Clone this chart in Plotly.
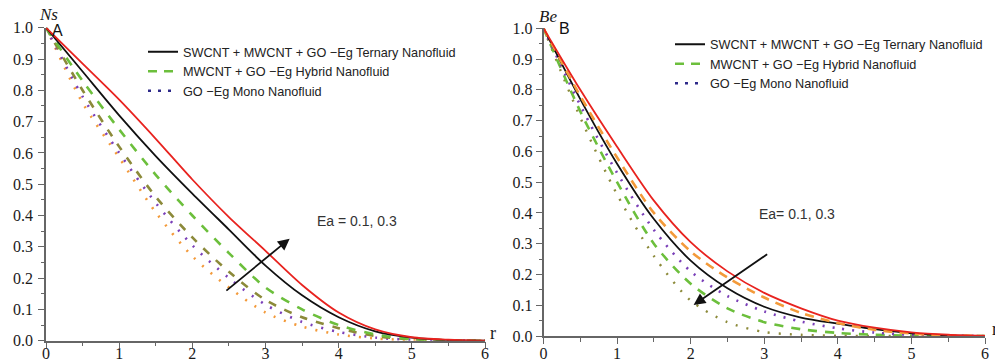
import plotly.graph_objects as go

# ---------------- data ----------------
r = [0, 0.5, 1, 1.5, 2, 2.5, 3, 3.5, 4, 4.5, 5, 5.5, 6]

# Panel A : Ns(r)
ns_ternary_hi = [1.0, 0.885, 0.77, 0.645, 0.515, 0.395, 0.287, 0.178, 0.09, 0.036, 0.011, 0.003, 0.0]
ns_ternary_lo = [1.0, 0.86, 0.72, 0.59, 0.47, 0.355, 0.24, 0.145, 0.075, 0.03, 0.01, 0.002, 0.0]
ns_hybrid_hi = [1.0, 0.83, 0.675, 0.53, 0.40, 0.28, 0.17, 0.10, 0.05, 0.02, 0.005, 0.001, 0.0]
ns_hybrid_lo = [1.0, 0.80, 0.62, 0.46, 0.33, 0.22, 0.13, 0.075, 0.04, 0.015, 0.004, 0.001, 0.0]
ns_mono_hi = [1.0, 0.78, 0.60, 0.44, 0.305, 0.20, 0.115, 0.06, 0.028, 0.01, 0.003, 0.001, 0.0]
ns_mono_lo = [1.0, 0.76, 0.585, 0.41, 0.27, 0.17, 0.09, 0.045, 0.02, 0.007, 0.002, 0.0005, 0.0]

# Panel B : Be(r)
be_ternary_hi = [1.0, 0.80, 0.615, 0.44, 0.305, 0.21, 0.14, 0.09, 0.05, 0.027, 0.012, 0.004, 0.0]
be_ternary_lo = [1.0, 0.77, 0.56, 0.38, 0.245, 0.155, 0.095, 0.06, 0.04, 0.022, 0.009, 0.002, 0.0]
be_orange = [1.0, 0.78, 0.58, 0.40, 0.275, 0.19, 0.125, 0.075, 0.042, 0.02, 0.008, 0.002, 0.0]
be_mono = [1.0, 0.75, 0.53, 0.345, 0.21, 0.13, 0.08, 0.047, 0.025, 0.011, 0.004, 0.001, 0.0]
be_hybrid = [1.0, 0.73, 0.50, 0.30, 0.17, 0.09, 0.045, 0.022, 0.01, 0.004, 0.001, 0.0, 0.0]
be_olive = [1.0, 0.71, 0.46, 0.26, 0.115, 0.045, 0.013, 0.004, 0.001, 0.0, 0.0, 0.0, 0.0]

legend_names = ["SWCNT + MWCNT + GO \u2212Eg Ternary Nanofluid",
                "MWCNT + GO \u2212Eg Hybrid Nanofluid",
                "GO \u2212Eg Mono Nanofluid"]

x_ticks = [0, 1, 2, 3, 4, 5, 6]

RED = "#e8231f"
BLACK = "#111111"
GREEN = "#6cbf3c"
OLIVE = "#8c8a3a"
PURPLE = "#7a3fb8"
ORANGE = "#f39a3a"
NAVY = "#2e2a8a"

fig = go.Figure()


def add(x, y, color, width, dash, xa, ya, name):
    fig.add_trace(go.Scatter(x=x, y=y, mode="lines", name=name, showlegend=False,
                             line=dict(color=color, width=width, dash=dash, shape="spline", smoothing=0.8),
                             xaxis=xa, yaxis=ya, hoverinfo="skip"))


# Panel A
add(r, ns_mono_lo, ORANGE, 2.6, "2px,9px", "x", "y", "Mono Ea=0.1")
add(r, ns_mono_hi, PURPLE, 2.6, "2px,9px", "x", "y", "Mono Ea=0.3")
add(r, ns_hybrid_lo, OLIVE, 2.6, "8px,9px", "x", "y", "Hybrid Ea=0.1")
add(r, ns_hybrid_hi, GREEN, 2.6, "9px,9px", "x", "y", "Hybrid Ea=0.3")
add(r, ns_ternary_lo, BLACK, 1.8, "solid", "x", "y", "Ternary Ea=0.1")
add(r, ns_ternary_hi, RED, 1.8, "solid", "x", "y", "Ternary Ea=0.3")

# Panel B
add(r, be_olive, OLIVE, 2.4, "2px,9px", "x2", "y2", "Ea=0.3 (olive)")
add(r, be_hybrid, GREEN, 2.6, "9px,8px", "x2", "y2", "Hybrid")
add(r, be_mono, PURPLE, 2.6, "2px,8px", "x2", "y2", "Mono")
add(r, be_ternary_lo, BLACK, 1.8, "solid", "x2", "y2", "Ternary Ea=0.3")
add(r, be_orange, ORANGE, 2.6, "9px,7px", "x2", "y2", "Ea=0.1 (orange)")
add(r, be_ternary_hi, RED, 1.8, "solid", "x2", "y2", "Ternary Ea=0.1")

# legend entries
leg_styles = [(BLACK, "solid", 2), (GREEN, "9px,7px", 2.5), (NAVY, "3px,7px", 2.5)]
for lg, xa, ya in [("legend", "x", "y"), ("legend2", "x2", "y2")]:
    for nm, (c, d, w) in zip(legend_names, leg_styles):
        fig.add_trace(go.Scatter(x=[None], y=[None], mode="lines", name=nm, legend=lg,
                                 line=dict(color=c, dash=d, width=w), xaxis=xa, yaxis=ya))

W, H = 995, 362
TICKFONT = dict(family="Liberation Serif, Times New Roman, serif", size=16, color="#1a1a1a")
AXC = "#666666"


def xax(domain, anchor, standoff):
    return dict(domain=domain, anchor=anchor, range=[0, 6], tickvals=x_ticks, showline=True,
                linecolor=AXC, linewidth=1.5, ticks="outside", ticklen=6, tickcolor=AXC, tickwidth=1.2,
                minor=dict(dtick=0.5, ticks="outside", ticklen=4, tickcolor=AXC, tickwidth=1),
                showgrid=False, zeroline=False, tickfont=TICKFONT, fixedrange=True,
                automargin=False, ticklabelstandoff=standoff)


def yax(domain, anchor, standoff):
    return dict(domain=domain, anchor=anchor, range=[0, 1], dtick=0.1, tickformat=".1f", showline=True,
                linecolor=AXC, linewidth=1.5, ticks="outside", ticklen=6, tickcolor=AXC, tickwidth=1.2,
                minor=dict(dtick=0.05, ticks="outside", ticklen=3, tickcolor=AXC, tickwidth=1),
                showgrid=False, zeroline=False, tickfont=TICKFONT, fixedrange=True,
                automargin=False, ticklabelstandoff=standoff)


LEGFONT = dict(family="Liberation Sans, Arial, sans-serif", size=12.7, color="#222222")
ANNFONT = dict(family="Liberation Sans, Arial, sans-serif", size=14, color="#333333")

fig.update_layout(
    width=W, height=H, margin=dict(l=0, r=0, t=0, b=0, autoexpand=False),
    paper_bgcolor="white", plot_bgcolor="white",
    xaxis=xax([46 / W, 485 / W], "y", -9),
    yaxis=yax([(H - 340.7) / H, (H - 27.7) / H], "x", 2),
    xaxis2=xax([543.5 / W, 985 / W], "y2", -4),
    yaxis2=yax([(H - 336) / H, (H - 28.3) / H], "x2", 0),
    legend=dict(x=143 / W, y=(H - 37) / H, xanchor="left", yanchor="top", font=LEGFONT,
                bgcolor="rgba(0,0,0,0)", borderwidth=0, itemwidth=30, itemclick=False),
    legend2=dict(x=670 / W, y=(H - 29.5) / H, xanchor="left", yanchor="top", font=LEGFONT,
                 bgcolor="rgba(0,0,0,0)", borderwidth=0, itemwidth=30, itemclick=False),
    showlegend=True,
)

serif_it = dict(family="Liberation Serif, Times New Roman, serif", size=17, color="#1a1a1a")
anns = [
    dict(text="<i>Ns</i>", x=48 / W, y=(H - 14) / H, font=serif_it),
    dict(text="<i>Be</i>", x=548 / W, y=(H - 16) / H, font=serif_it),
    dict(text="A", x=57 / W, y=(H - 30) / H, font=dict(family="Liberation Sans, Arial", size=16, color="#111")),
    dict(text="B", x=564 / W, y=(H - 28) / H, font=dict(family="Liberation Sans, Arial", size=16, color="#111")),
    dict(text="r", x=493 / W, y=(H - 333) / H, font=dict(family="Liberation Serif, serif", size=18, color="#1a1a1a")),
    dict(text="r", x=990 / W, y=(H - 329) / H, xanchor="left", font=dict(family="Liberation Serif, serif", size=18, color="#1a1a1a")),
    dict(text="Ea = 0.1, 0.3", x=357 / W, y=(H - 221) / H, font=ANNFONT),
    dict(text="Ea= 0.1, 0.3", x=797 / W, y=(H - 214) / H, font=ANNFONT),
]
for a in anns:
    a.setdefault("xanchor", "center")
    fig.add_annotation(xref="paper", yref="paper", showarrow=False, yanchor="middle", **a)

# Ea arrows
fig.add_annotation(xref="x", yref="y", axref="x", ayref="y", x=3.33, y=0.326, ax=2.445, ay=0.156,
                   text="", showarrow=True, arrowhead=2, arrowsize=1.3, arrowwidth=1.8, arrowcolor="#111")
fig.add_annotation(xref="x2", yref="y2", axref="x2", ayref="y2", x=2.04, y=0.101, ax=3.06, ay=0.269,
                   text="", showarrow=True, arrowhead=2, arrowsize=1.3, arrowwidth=1.8, arrowcolor="#111")

fig.write_html("out.html", config={"displayModeBar": False},
               post_script="document.body.style.margin='0';document.body.style.overflow='hidden';")
